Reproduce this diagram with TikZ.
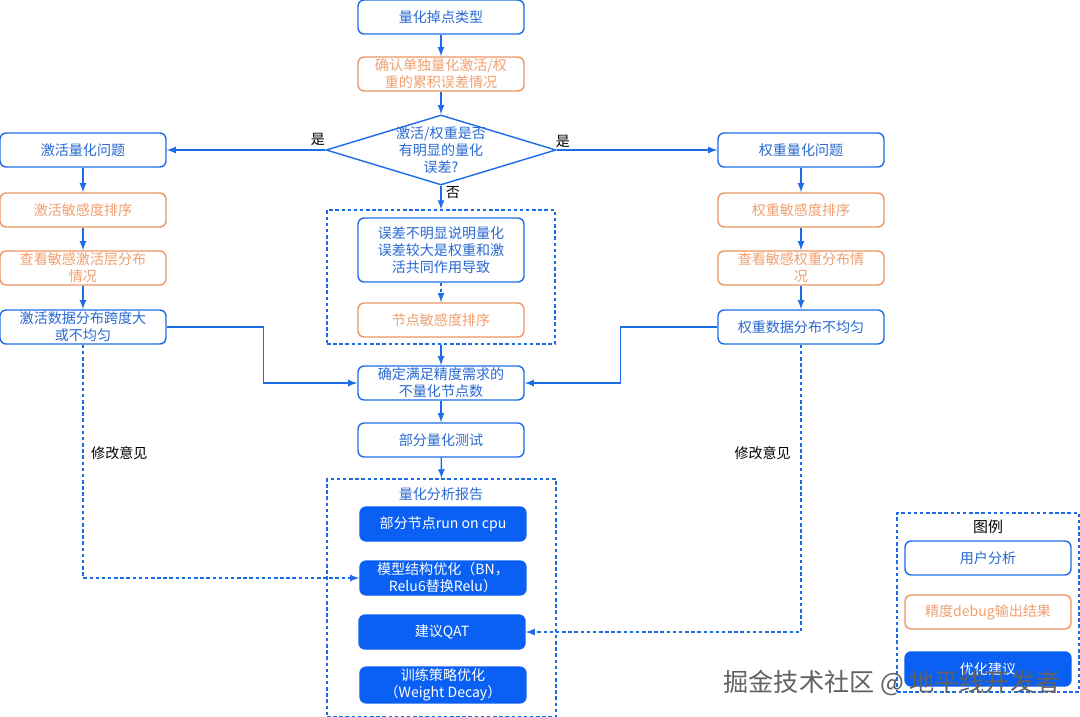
\documentclass[tikz,border=0pt]{standalone}
\usepackage{fontspec}
\setmainfont{Noto Sans CJK SC}
\usetikzlibrary{shapes.geometric}
\definecolor{linecol}{RGB}{28,108,232}
\definecolor{txtblue}{RGB}{40,105,210}
\definecolor{orangecol}{RGB}{236,150,100}
\definecolor{orangetxt}{RGB}{240,160,112}
\definecolor{fillcol}{RGB}{10,96,242}
\tikzset{
  userbox/.style={draw=linecol, fill=white, rounded corners=3.5pt, line width=0.8pt, text=txtblue,
    minimum width=3.32cm, minimum height=0.68cm, align=center, inner sep=1pt},
  debugbox/.style={userbox, draw=orangecol, text=orangetxt},
  advicebox/.style={userbox, fill=fillcol, draw=fillcol, text=white},
  groupbox/.style={draw=linecol, line width=0.7pt, dash pattern=on 2pt off 1.5pt, inner sep=0},
  flow/.style={draw=linecol, line width=0.8pt, arrows={-latex}},
  dashflow/.style={flow, dash pattern=on 2pt off 1.5pt},
}

\begin{document}
\begin{tikzpicture}[x=0.02cm, y=-0.02cm, font=\fontsize{8}{9.6}\selectfont]
                \useasboundingbox (0,0) rectangle (1080,717);

                % middle column
                \node[userbox]  (type)  at (441,17) {量化掉点类型};
                \node[debugbox] (accum) at (441,74) {确认单独量化激活/权\\重的累积误差情况};
                \node[diamond, draw=linecol, line width=0.8pt, minimum width=4.6cm, minimum height=1.4cm, inner sep=0] (judge) at (441,150) {};
                \node[text=txtblue, align=center] (judgetxt) at (441,150) {激活/权重是否\\有明显的量化\\误差?};

                \node[groupbox, minimum width=4.56cm, minimum height=2.68cm] (nodegrp) at (441,277) {};
                \node[userbox, minimum height=1.28cm] (joint) at (441,250) {误差不明显说明量化\\误差较大是权重和激\\活共同作用导致};
                \node[debugbox] (nodesort) at (441,320) {节点敏感度排序};

                \node[userbox] (fix)  at (441,383) {确定满足精度需求的\\不量化节点数};
                \node[userbox] (part) at (441,440) {部分量化测试};

                \node[groupbox, minimum width=4.58cm, minimum height=4.76cm] (report) at (441.5,598) {};
                \node[text=txtblue] (reporttitle) at (441,494) {量化分析报告};
                \node[advicebox] (cpu)    at (443,524) {部分节点run on cpu};
                \node[advicebox] (struct) at (443,578) {模型结构优化（BN，\\Relu6替换Relu）};
                \node[advicebox] (qat)    at (442,632) {建议QAT};
                \node[advicebox] (train)  at (443,685) {训练策略优化\\（Weight Decay）};

                % left column
                \node[userbox]  (actq)    at (83,150) {激活量化问题};
                \node[debugbox] (actsort) at (83,210) {激活敏感度排序};
                \node[debugbox] (actview) at (83,268) {查看敏感激活层分布\\情况};
                \node[userbox]  (actdist) at (83,327) {激活数据分布跨度大\\或不均匀};

                % right column
                \node[userbox]  (wq)    at (801,150) {权重量化问题};
                \node[debugbox] (wsort) at (801,210) {权重敏感度排序};
                \node[debugbox] (wview) at (801,268) {查看敏感权重分布情\\况};
                \node[userbox]  (wdist) at (801,327) {权重数据分布不均匀};

                % legend
                \node[groupbox, minimum width=3.64cm, minimum height=3.58cm] (legend) at (988,602.5) {};
                \node[font=\fontsize{8.5}{10}\selectfont] (legendtitle) at (988,527) {图例};
                \node[userbox]   (leguser)   at (988,558) {用户分析};
                \node[debugbox]  (legdebug)  at (988,612) {精度debug输出结果};
                \node[advicebox] (legadvice) at (988,669) {优化建议};

                \draw[flow] (type) -- (accum);
                \draw[flow] (accum) -- (judge.north);
                \draw[flow] (judge.west) -- (actq.east);
                \draw[flow] (judge.east) -- (wq.west);
                \draw[flow] (judge.south) -- (nodegrp.north);
                \node (yesl) at (318,139) {是};
                \node (yesr) at (563,141) {是};
                \node (nol)  at (453,193) {否};
                \draw[dashflow] (joint) -- (nodesort);
                \draw[flow] (nodegrp.south) -- (fix);
                \draw[flow] (fix) -- (part);
                \draw[flow] (part) -- (report.north);

                \draw[flow] (actq) -- (actsort);
                \draw[flow] (actsort) -- (actview);
                \draw[flow] (actview) -- (actdist);
                \draw[flow] (wq) -- (wsort);
                \draw[flow] (wsort) -- (wview);
                \draw[flow] (wview) -- (wdist);

                \draw[flow] (actdist.east) -- ++(97,0) |- (fix.west);
                \draw[flow] (wdist.west) -- ++(-97,0) |- (fix.east);

                \draw[dashflow] (actdist.south) |- (struct.west);
                \draw[dashflow] (wdist.south) |- (qat.east);
                \node[anchor=west] (advl) at (85,453) {修改意见};
                \node[anchor=east] (advr) at (797,453) {修改意见};

                \node[text=black!62, font=\fontsize{14.3}{14.3}\selectfont] (mark) at (892,683) {掘金技术社区 @ 地平线开发者};
            \end{tikzpicture}
\end{document}
